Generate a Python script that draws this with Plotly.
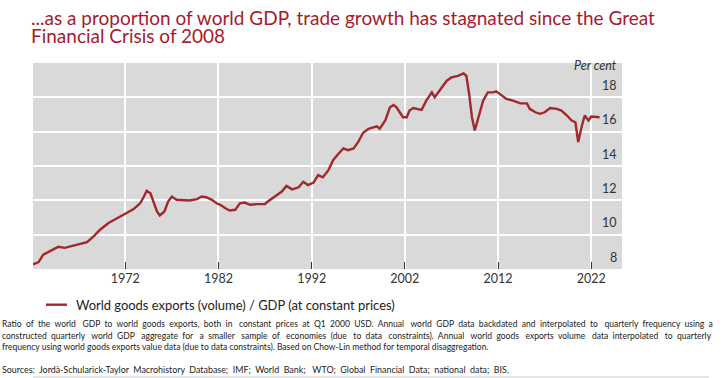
import plotly.graph_objects as go

# ---- data ----
years = [1962.1, 1962.7, 1963.2, 1963.9, 1964.8, 1965.5, 1966.4, 1967.1, 1967.9, 1968.6,
         1969.3, 1970.2, 1971.1, 1972.0, 1972.9, 1973.6, 1974.0, 1974.3, 1974.7, 1975.0,
         1975.4, 1975.7, 1976.2, 1976.6, 1977.0, 1977.5, 1978.2, 1978.9, 1979.7, 1980.2,
         1980.7, 1981.3, 1981.8, 1982.2, 1982.7, 1983.2, 1983.8, 1984.3, 1984.8, 1985.4,
         1986.1, 1987.0, 1987.3, 1988.1, 1988.8, 1989.3, 1989.9, 1990.6, 1991.1, 1991.6,
         1992.2, 1992.7, 1993.2, 1993.8, 1994.3, 1994.9, 1995.4, 1995.9, 1996.5, 1997.0,
         1997.5, 1998.1, 1999.0, 1999.3, 1999.9, 2000.4, 2000.8, 2001.1, 2001.5, 2001.8,
         2002.2, 2002.5, 2002.9, 2003.4, 2003.8, 2004.3, 2004.9, 2005.2, 2005.6, 2005.9,
         2006.5, 2007.0, 2007.4, 2007.7, 2008.3, 2008.6, 2008.9, 2009.2, 2009.5, 2009.9,
         2010.4, 2010.9, 2011.5, 2011.8, 2012.4, 2012.9, 2013.6, 2014.4, 2015.1, 2015.4,
         2016.0, 2016.5, 2017.0, 2017.6, 2018.3, 2018.8, 2019.4, 2019.9, 2020.3, 2020.6,
         2021.0, 2021.3, 2021.7, 2022.0, 2022.9]
ratio = [8.27, 8.40, 8.84, 9.04, 9.29, 9.23, 9.36, 9.48, 9.56, 9.90,
         10.29, 10.68, 10.97, 11.22, 11.49, 11.83, 12.22, 12.56, 12.41, 11.93,
         11.35, 11.12, 11.35, 11.93, 12.22, 12.03, 11.99, 11.99, 12.07, 12.22,
         12.18, 12.03, 11.83, 11.74, 11.55, 11.41, 11.45, 11.83, 11.87, 11.74,
         11.78, 11.79, 11.93, 12.22, 12.51, 12.84, 12.64, 12.76, 13.08, 12.89,
         13.03, 13.47, 13.34, 13.76, 14.34, 14.73, 15.02, 14.92, 15.02, 15.40,
         15.92, 16.17, 16.31, 16.17, 16.65, 17.42, 17.56, 17.42, 17.04, 16.84,
         16.84, 17.23, 17.38, 17.33, 17.27, 17.81, 18.29, 18.00, 18.29, 18.48,
         18.97, 19.16, 19.20, 19.25, 19.39, 19.25, 18.19, 16.84, 16.07, 16.84,
         17.81, 18.29, 18.29, 18.35, 18.10, 17.91, 17.81, 17.65, 17.65, 17.33,
         17.13, 17.04, 17.13, 17.38, 17.33, 17.23, 16.94, 16.65, 16.55, 15.40,
         16.36, 16.94, 16.65, 16.88, 16.84]

x_ticks = [1972, 1982, 1992, 2002, 2012, 2022]
y_ticks = [8, 10, 12, 14, 16, 18]
x_range = [1962.1, 2025.3]
y_range = [8, 20]

series_name = "World goods exports (volume) / GDP (at constant prices)"
title_lines = ["...as a proportion of world GDP, trade growth has stagnated since the Great",
               "Financial Crisis of 2008"]
footnote_lines = [
    "Ratio of the world GDP to world goods exports, both in constant prices at Q1 2000 USD. Annual world GDP data backdated and interpolated to quarterly frequency using a",
    "constructed quarterly world GDP aggregate for a smaller sample of economies (due to data constraints). Annual world goods exports volume data interpolated to quarterly",
    "frequency using world goods exports value data (due to data constraints). Based on Chow-Lin method for temporal disaggregation.",
]
sources = "Sources: Jordà-Schularick-Taylor Macrohistory Database; IMF; World Bank; WTO; Global Financial Data; national data; BIS."

# ---- layout geometry ----
W, H = 723, 378
L, R, T, B = 33, 101, 63, 109
PW, PH = W - L - R, H - T - B

def px(x):
    return (x - L) / PW

def py(y):
    return (H - B - y) / PH

def justify(text, extra):
    """spread `extra` additional non-breaking spaces over the word gaps"""
    words = text.split(" ")
    gaps = len(words) - 1
    out = words[0]
    acc = 0
    for i, w in enumerate(words[1:]):
        target = extra * (i + 1) / gaps
        n = int(round(target - acc))
        acc += n
        out += " " + "\u00a0" * n + w
    return out

FONT = "Lato"
RED = "#a8192e"
LINE = "#a2282c"
FN_SIZE = 8.55

fig = go.Figure()
fig.add_trace(go.Scatter(x=years, y=ratio, mode="lines", name=series_name,
                         line=dict(color=LINE, width=2.4), showlegend=False))

fig.update_layout(
    template="none",
    width=W, height=H,
    margin=dict(l=L, r=R, t=T, b=B, pad=0, autoexpand=False),
    paper_bgcolor="white", plot_bgcolor="#d9d9d9",
    font=dict(family=FONT, color="#333"),
    showlegend=False,
    xaxis=dict(range=x_range, tickvals=x_ticks, ticktext=[str(v) for v in x_ticks],
               showgrid=True, gridcolor="#ffffff", gridwidth=2, zeroline=False,
               ticks="inside", ticklen=7, tickwidth=1.3, tickcolor="#333333",
               automargin=False, tickfont=dict(family=FONT, size=12.5, color="#333"),
               showline=False),
    yaxis=dict(range=y_range, tickvals=y_ticks, showticklabels=False,
               showgrid=True, gridcolor="#ffffff", gridwidth=2, zeroline=False,
               ticks="", automargin=False, showline=False),
)

annotations = [
    dict(text="<i>Per cent</i>", x=px(619), y=py(65), xref="paper", yref="paper",
         xanchor="right", yanchor="middle", showarrow=False,
         font=dict(family=FONT, size=12.5, color="#333")),
    dict(text=title_lines[0], x=px(29), y=py(17), xref="paper", yref="paper",
         xanchor="left", yanchor="middle", showarrow=False,
         font=dict(family=FONT, size=19.0, color=RED)),
    dict(text=title_lines[1], x=px(29), y=py(35.5), xref="paper", yref="paper",
         xanchor="left", yanchor="middle", showarrow=False,
         font=dict(family=FONT, size=19.0, color=RED)),
    dict(text=series_name, x=px(74), y=py(304.7), xref="paper", yref="paper",
         xanchor="left", yanchor="middle", showarrow=False,
         font=dict(family=FONT, size=12.95, color="#222")),
]
# y tick labels: right-aligned inside the plot, sitting just above their grid lines
for v in y_ticks:
    annotations.append(dict(text=str(v), x=px(619), y=v, xref="paper", yref="y",
                            xanchor="right", yanchor="middle", yshift=12, showarrow=False,
                            font=dict(family=FONT, size=12.5, color="#333")))
fn_extra = [32, 34, 0]
for line, yy, ex in zip(footnote_lines, [324.3, 335.5, 346.7], fn_extra):
    annotations.append(dict(text=justify(line, ex), x=px(0), y=py(yy), xref="paper", yref="paper",
                            xanchor="left", yanchor="middle", showarrow=False,
                            font=dict(family=FONT, size=FN_SIZE, color="#222")))
annotations.append(dict(text=justify(sources, 14), x=px(0), y=py(369.5), xref="paper", yref="paper",
                        xanchor="left", yanchor="middle", showarrow=False,
                        font=dict(family=FONT, size=8.9, color="#222")))
fig.update_layout(annotations=annotations)

fig.add_shape(type="line", xref="paper", yref="paper", x0=px(46), x1=px(67),
              y0=py(304.7), y1=py(304.7), line=dict(color=LINE, width=2.4))
fig.add_shape(type="line", xref="paper", yref="paper", x0=px(33), x1=px(709),
              y0=py(377), y1=py(377), line=dict(color="#cccccc", width=1))

fig.write_html("out.html", config={"displayModeBar": False},
               post_script="document.body.style.margin='0';document.body.style.overflow='hidden';")
